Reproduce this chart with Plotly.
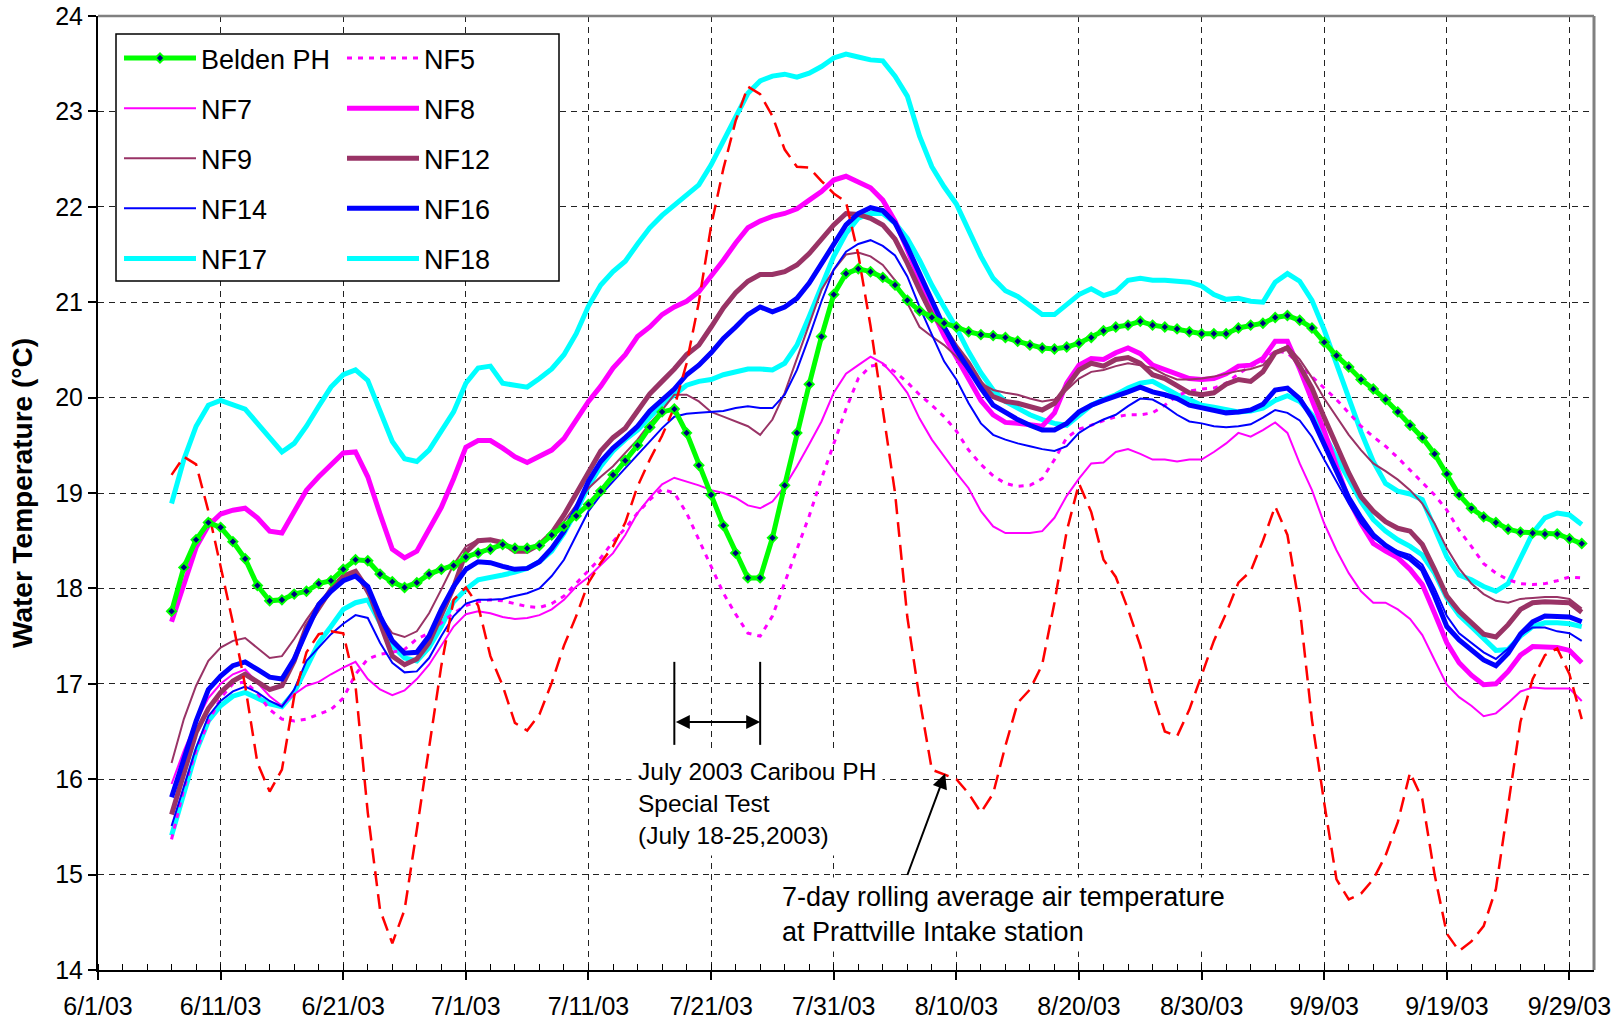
import pandas as pd
import plotly.graph_objects as go

# ---------------- data (daily, 6/7/03 .. 9/30/03) ----------------
dates = pd.date_range("2003-06-07", "2003-09-30", freq="D")

belden_ph = [17.76, 18.22, 18.51, 18.69, 18.64, 18.49, 18.31, 18.03, 17.87, 17.88,
             17.94, 17.97, 18.05, 18.08, 18.20, 18.30, 18.29, 18.15, 18.07, 18.01,
             18.06, 18.15, 18.20, 18.24, 18.33, 18.37, 18.41, 18.46, 18.42, 18.42,
             18.45, 18.56, 18.65, 18.76, 18.88, 19.02, 19.19, 19.34, 19.50, 19.69,
             19.85, 19.88, 19.63, 19.29, 18.98, 18.66, 18.37, 18.11, 18.11, 18.53,
             19.08, 19.63, 20.14, 20.64, 21.08, 21.30, 21.35, 21.32, 21.26, 21.18,
             21.02, 20.91, 20.84, 20.78, 20.74, 20.69, 20.66, 20.65, 20.63, 20.59,
             20.55, 20.52, 20.51, 20.53, 20.57, 20.63, 20.70, 20.74, 20.76, 20.80,
             20.76, 20.74, 20.72, 20.69, 20.67, 20.67, 20.67, 20.73, 20.76, 20.78,
             20.84, 20.86, 20.81, 20.73, 20.58, 20.44, 20.32, 20.19, 20.09, 19.98,
             19.85, 19.71, 19.58, 19.41, 19.20, 18.98, 18.84, 18.75, 18.69, 18.62,
             18.59, 18.58, 18.57, 18.57, 18.52, 18.47]

nf5 = [15.37, 15.90, 16.30, 16.60, 16.85, 17.00, 17.02, 16.90, 16.73, 16.63,
       16.61, 16.63, 16.68, 16.73, 16.85, 17.10, 17.26, 17.31, 17.33, 17.36,
       17.47, 17.53, 17.64, 17.74, 17.82, 17.86, 17.88, 17.87, 17.84, 17.81,
       17.80, 17.84, 17.92, 18.05, 18.19, 18.32, 18.49, 18.63, 18.79, 18.93,
       19.04, 19.00, 18.79, 18.51, 18.22, 17.95, 17.73, 17.53, 17.50, 17.71,
       18.06, 18.41, 18.76, 19.15, 19.52, 19.88, 20.20, 20.33, 20.35, 20.27,
       20.16, 20.03, 19.92, 19.80, 19.65, 19.45, 19.30, 19.18, 19.10, 19.07,
       19.08, 19.15, 19.35, 19.58, 19.67, 19.71, 19.76, 19.80, 19.82, 19.82,
       19.84, 19.92, 20.02, 20.07, 20.09, 20.10, 20.15, 20.25, 20.33, 20.38,
       20.49, 20.47, 20.34, 20.22, 20.10, 19.98, 19.84, 19.70, 19.59, 19.49,
       19.37, 19.24, 19.12, 18.98, 18.82, 18.61, 18.44, 18.26, 18.16, 18.09,
       18.05, 18.04, 18.05, 18.08, 18.12, 18.11]

nf7 = [15.95, 16.30, 16.60, 16.85, 17.00, 17.10, 17.15, 17.01, 16.87, 16.77,
       16.89, 16.98, 17.02, 17.10, 17.17, 17.23, 17.05, 16.94, 16.88, 16.93,
       17.05, 17.20, 17.40, 17.60, 17.73, 17.76, 17.74, 17.70, 17.68, 17.69,
       17.72, 17.78, 17.88, 18.02, 18.12, 18.25, 18.37, 18.56, 18.79, 18.95,
       19.09, 19.16, 19.12, 19.08, 19.03, 19.00, 18.95, 18.87, 18.84, 18.91,
       19.07, 19.28, 19.51, 19.75, 20.05, 20.25, 20.34, 20.43, 20.36, 20.22,
       20.05, 19.78, 19.56, 19.38, 19.21, 19.05, 18.81, 18.65, 18.58, 18.58,
       18.58, 18.60, 18.74, 18.97, 19.15, 19.31, 19.32, 19.43, 19.46, 19.41,
       19.35, 19.35, 19.33, 19.35, 19.35, 19.43, 19.52, 19.63, 19.59, 19.66,
       19.74, 19.63, 19.31, 19.03, 18.68, 18.40, 18.16, 17.97, 17.85, 17.85,
       17.78, 17.68, 17.51, 17.25, 16.99, 16.86, 16.77, 16.66, 16.69, 16.80,
       16.92, 16.96, 16.95, 16.95, 16.95, 16.82]

nf8 = [17.65, 18.06, 18.43, 18.66, 18.78, 18.82, 18.84, 18.74, 18.60, 18.58,
       18.80, 19.03, 19.17, 19.29, 19.42, 19.43, 19.17, 18.78, 18.41, 18.32,
       18.39, 18.62, 18.85, 19.15, 19.48, 19.55, 19.55, 19.47, 19.38, 19.32,
       19.38, 19.45, 19.57, 19.76, 19.96, 20.12, 20.31, 20.45, 20.64, 20.74,
       20.87, 20.95, 21.01, 21.11, 21.27, 21.44, 21.62, 21.78, 21.85, 21.90,
       21.93, 21.98, 22.07, 22.16, 22.28, 22.32, 22.26, 22.20, 22.07, 21.85,
       21.55, 21.22, 20.92, 20.65, 20.42, 20.18, 19.97, 19.82, 19.74, 19.73,
       19.71, 19.70, 19.84, 20.15, 20.34, 20.41, 20.40, 20.47, 20.52, 20.46,
       20.34, 20.29, 20.24, 20.20, 20.19, 20.20, 20.25, 20.33, 20.34, 20.41,
       20.59, 20.59, 20.30, 19.98, 19.65, 19.28, 18.93, 18.68, 18.47, 18.39,
       18.32, 18.20, 18.04, 17.74, 17.43, 17.22, 17.09, 16.99, 17.00, 17.13,
       17.30, 17.39, 17.39, 17.38, 17.35, 17.22]

nf9 = [16.17, 16.63, 16.98, 17.24, 17.38, 17.45, 17.48, 17.38, 17.27, 17.29,
       17.47, 17.67, 17.85, 17.99, 18.08, 18.16, 17.94, 17.71, 17.53, 17.49,
       17.55, 17.74, 17.99, 18.25, 18.44, 18.51, 18.50, 18.47, 18.42, 18.42,
       18.47, 18.56, 18.70, 18.88, 19.05, 19.17, 19.28, 19.42, 19.56, 19.73,
       19.87, 20.03, 20.03, 19.96, 19.85, 19.80, 19.75, 19.70, 19.61, 19.77,
       20.05, 20.41, 20.78, 21.13, 21.34, 21.50, 21.52, 21.48, 21.39, 21.23,
       20.99, 20.74, 20.64, 20.55, 20.43, 20.29, 20.15, 20.08, 20.05, 20.03,
       19.99, 19.96, 19.98, 20.08, 20.20, 20.27, 20.29, 20.33, 20.36, 20.34,
       20.31, 20.24, 20.19, 20.19, 20.20, 20.22, 20.25, 20.28, 20.30, 20.34,
       20.48, 20.54, 20.40, 20.21, 19.99, 19.80, 19.61, 19.45, 19.31, 19.23,
       19.14, 19.03, 18.89, 18.68, 18.42, 18.21, 18.05, 17.94, 17.87, 17.85,
       17.89, 17.90, 17.91, 17.91, 17.89, 17.79]

nf12 = [15.63, 16.07, 16.49, 16.74, 16.91, 17.03, 17.10, 17.02, 16.94, 16.98,
        17.24, 17.60, 17.80, 17.99, 18.13, 18.18, 17.99, 17.64, 17.29, 17.20,
        17.26, 17.43, 17.71, 18.01, 18.38, 18.50, 18.51, 18.48, 18.39, 18.39,
        18.46, 18.58, 18.77, 19.00, 19.23, 19.44, 19.58, 19.68, 19.86, 20.04,
        20.17, 20.30, 20.45, 20.55, 20.74, 20.94, 21.10, 21.22, 21.29, 21.29,
        21.32, 21.39, 21.51, 21.67, 21.81, 21.93, 21.92, 21.88, 21.81, 21.66,
        21.41, 21.13, 20.87, 20.73, 20.53, 20.36, 20.15, 20.01, 19.96, 19.94,
        19.91, 19.87, 19.94, 20.12, 20.29, 20.36, 20.33, 20.40, 20.42, 20.36,
        20.24, 20.20, 20.12, 20.05, 20.03, 20.05, 20.14, 20.19, 20.17, 20.27,
        20.47, 20.52, 20.33, 20.10, 19.79, 19.49, 19.21, 18.96, 18.81, 18.70,
        18.63, 18.60, 18.46, 18.20, 17.92, 17.76, 17.64, 17.52, 17.49, 17.62,
        17.78, 17.85, 17.86, 17.86, 17.85, 17.75]

nf14 = [15.51, 15.91, 16.33, 16.66, 16.82, 16.92, 16.97, 16.91, 16.82, 16.76,
        16.94, 17.24, 17.38, 17.52, 17.63, 17.72, 17.69, 17.43, 17.22, 17.12,
        17.13, 17.27, 17.50, 17.71, 17.84, 17.88, 17.88, 17.89, 17.92, 17.95,
        18.00, 18.13, 18.30, 18.56, 18.81, 18.98, 19.12, 19.26, 19.40, 19.54,
        19.68, 19.80, 19.83, 19.84, 19.85, 19.86, 19.89, 19.91, 19.89, 19.89,
        20.03, 20.29, 20.64, 21.01, 21.34, 21.53, 21.61, 21.65, 21.59, 21.49,
        21.27, 20.95, 20.66, 20.38, 20.19, 19.94, 19.73, 19.61, 19.56, 19.52,
        19.49, 19.46, 19.44, 19.49, 19.63, 19.71, 19.77, 19.82, 19.91, 19.99,
        19.98, 19.91, 19.82, 19.75, 19.73, 19.70, 19.69, 19.70, 19.72, 19.79,
        19.87, 19.84, 19.76, 19.59, 19.35, 19.12, 18.89, 18.68, 18.53, 18.44,
        18.39, 18.35, 18.25, 18.00, 17.71, 17.53, 17.43, 17.33, 17.26, 17.37,
        17.51, 17.59, 17.59, 17.55, 17.53, 17.45]

nf16 = [15.81, 16.21, 16.61, 16.94, 17.08, 17.19, 17.23, 17.15, 17.07, 17.05,
        17.26, 17.55, 17.83, 17.97, 18.08, 18.13, 18.02, 17.71, 17.45, 17.32,
        17.33, 17.50, 17.78, 18.02, 18.20, 18.28, 18.27, 18.23, 18.20, 18.21,
        18.28, 18.42, 18.60, 18.84, 19.12, 19.33, 19.47, 19.58, 19.70, 19.86,
        19.97, 20.09, 20.24, 20.34, 20.47, 20.62, 20.74, 20.87, 20.95, 20.90,
        20.95, 21.04, 21.20, 21.41, 21.62, 21.81, 21.93, 21.99, 21.96, 21.83,
        21.58, 21.30, 20.99, 20.74, 20.50, 20.29, 20.10, 19.92, 19.84, 19.77,
        19.71, 19.66, 19.66, 19.73, 19.85, 19.92, 19.97, 20.01, 20.06, 20.11,
        20.06, 20.03, 19.99, 19.92, 19.89, 19.86, 19.84, 19.85, 19.87, 19.93,
        20.08, 20.10, 19.99, 19.79, 19.51, 19.21, 18.95, 18.74, 18.56, 18.45,
        18.37, 18.31, 18.20, 17.92, 17.60, 17.46, 17.36, 17.25, 17.19, 17.32,
        17.52, 17.65, 17.71, 17.71, 17.70, 17.65]

nf17 = [18.89, 19.35, 19.70, 19.92, 19.97, 19.93, 19.88, 19.73, 19.58, 19.43,
        19.52, 19.70, 19.91, 20.11, 20.24, 20.29, 20.18, 19.87, 19.54, 19.36,
        19.33, 19.45, 19.64, 19.85, 20.15, 20.31, 20.33, 20.15, 20.13, 20.11,
        20.20, 20.30, 20.45, 20.67, 20.96, 21.18, 21.32, 21.43, 21.61, 21.78,
        21.91, 22.02, 22.13, 22.23, 22.44, 22.69, 22.95, 23.19, 23.32, 23.37,
        23.39, 23.36, 23.40, 23.47, 23.56, 23.60, 23.57, 23.54, 23.53, 23.37,
        23.16, 22.74, 22.42, 22.21, 22.03, 21.76, 21.48, 21.25, 21.12, 21.06,
        20.97, 20.87, 20.87, 20.97, 21.08, 21.14, 21.07, 21.11, 21.23, 21.25,
        21.23, 21.23, 21.22, 21.21, 21.17, 21.08, 21.03, 21.04, 21.01, 21.00,
        21.21, 21.30, 21.22, 21.02, 20.71, 20.36, 19.99, 19.64, 19.33, 19.10,
        19.02, 18.99, 18.93, 18.63, 18.33, 18.14, 18.09, 18.02, 17.97, 18.05,
        18.33, 18.58, 18.74, 18.79, 18.77, 18.67]

nf18 = [15.41, 15.87, 16.29, 16.61, 16.77, 16.87, 16.91, 16.85, 16.79, 16.76,
        16.91, 17.17, 17.43, 17.60, 17.78, 17.85, 17.88, 17.64, 17.40, 17.27,
        17.24, 17.38, 17.60, 17.86, 17.99, 18.09, 18.11, 18.14, 18.17, 18.21,
        18.28, 18.39, 18.58, 18.81, 19.07, 19.28, 19.44, 19.56, 19.66, 19.80,
        19.93, 20.03, 20.13, 20.17, 20.19, 20.24, 20.27, 20.30, 20.30, 20.29,
        20.36, 20.55, 20.85, 21.16, 21.48, 21.72, 21.88, 21.93, 21.93, 21.83,
        21.67, 21.44, 21.18, 20.95, 20.73, 20.48, 20.26, 20.08, 19.96, 19.89,
        19.82, 19.77, 19.73, 19.71, 19.82, 19.92, 19.98, 20.03, 20.10, 20.15,
        20.17, 20.10, 20.03, 19.98, 19.92, 19.90, 19.87, 19.85, 19.86, 19.89,
        19.97, 20.02, 19.96, 19.82, 19.61, 19.38, 19.14, 18.91, 18.72, 18.60,
        18.51, 18.44, 18.35, 18.16, 17.90, 17.72, 17.60, 17.48, 17.35, 17.36,
        17.50, 17.60, 17.64, 17.64, 17.63, 17.60]

air_temp = [19.19, 19.38, 19.30, 18.81, 18.23, 17.64, 16.98, 16.17, 15.87, 16.10,
            16.87, 17.33, 17.52, 17.55, 17.53, 16.98, 15.65, 14.63, 14.28, 14.63,
            15.47, 16.35, 17.19, 17.88, 18.01, 17.82, 17.29, 16.98, 16.59, 16.51,
            16.68, 17.01, 17.40, 17.71, 18.06, 18.27, 18.44, 18.69, 19.07, 19.35,
            19.60, 19.90, 20.36, 21.00, 21.80, 22.40, 22.90, 23.26, 23.18, 22.95,
            22.60, 22.42, 22.41, 22.27, 22.14, 22.05, 21.50, 20.75, 19.85, 19.00,
            17.70, 16.84, 16.10, 16.05, 16.00, 15.85, 15.65, 15.85, 16.35, 16.80,
            16.94, 17.20, 17.85, 18.60, 19.10, 18.80, 18.30, 18.12, 17.78, 17.40,
            16.90, 16.50, 16.45, 16.73, 17.10, 17.45, 17.74, 18.06, 18.18, 18.50,
            18.86, 18.56, 17.80, 16.62, 15.75, 14.95, 14.74, 14.80, 14.95, 15.20,
            15.55, 16.07, 15.79, 15.00, 14.38, 14.20, 14.30, 14.46, 14.85, 15.70,
            16.60, 17.05, 17.30, 17.37, 17.10, 16.63]

# ---------------- styling ----------------
FONT = "Arial, 'Liberation Sans', sans-serif"
MAGENTA = "#FF00FF"
PURPLE = "#993366"
BLUE = "#0000FF"
CYAN = "#00FFFF"
GREEN = "#00FF00"

series = [
    # name, values, color, width, dash, legend, rank
    ("NF17", nf17, CYAN, 5, "solid", "legend", 5),
    ("NF18", nf18, CYAN, 5, "solid", "legend2", 5),
    ("NF5", nf5, MAGENTA, 3, "5px,6px", "legend2", 1),
    ("NF7", nf7, MAGENTA, 2, "solid", "legend", 2),
    ("NF8", nf8, MAGENTA, 5, "solid", "legend2", 2),
    ("NF9", nf9, PURPLE, 2, "solid", "legend", 3),
    ("NF12", nf12, PURPLE, 5, "solid", "legend2", 3),
    ("NF14", nf14, BLUE, 2, "solid", "legend", 4),
    ("NF16", nf16, BLUE, 5, "solid", "legend2", 4),
]

fig = go.Figure()
for name, vals, color, width, dash, leg, rank in series:
    fig.add_trace(go.Scatter(
        x=dates, y=vals, name=name, mode="lines",
        line=dict(color=color, width=width, dash=dash),
        legend=leg, legendgroup=name, legendrank=rank,
    ))

fig.add_trace(go.Scatter(
    x=dates, y=air_temp, name="7-day rolling average air temperature",
    mode="lines", line=dict(color="#FF0000", width=2.5, dash="15px,8px"),
    showlegend=False,
))

fig.add_trace(go.Scatter(
    x=dates, y=belden_ph, name="Belden PH", mode="lines+markers",
    line=dict(color=GREEN, width=5),
    marker=dict(symbol="diamond", size=7, color="#000080",
                line=dict(color=GREEN, width=2)),
    legend="legend", legendgroup="Belden PH", legendrank=1,
))

# ---------------- layout ----------------
L, R, T, B = 98, 26, 16, 51
W, H = 1620, 1021
pw, ph = W - L - R, H - T - B


def px_x(x):
    return (x - L) / pw


def px_y(y):
    return (H - B - y) / ph


legend_common = dict(
    bgcolor="rgba(0,0,0,0)", borderwidth=0,
    font=dict(family=FONT, size=27, color="black"),
    itemwidth=72, tracegroupgap=12, orientation="v",
    xanchor="left", yanchor="top", traceorder="grouped",
)

fig.update_layout(
    width=W, height=H,
    margin=dict(l=L, r=R, t=T, b=B, pad=0, autoexpand=False),
    paper_bgcolor="white", plot_bgcolor="white",
    font=dict(family=FONT, size=25, color="black"),
    legend=dict(x=px_x(119), y=px_y(34), **legend_common),
    legend2=dict(x=px_x(342), y=px_y(34), **legend_common),
    xaxis=dict(
        type="date", range=["2003-06-01", "2003-10-01"], automargin=False,
        tick0="2003-06-01", dtick=10 * 86400000, tickformat="%-m/%-d/%y",
        ticks="outside", ticklen=8, tickwidth=1.5, tickcolor="black",
        showline=True, linecolor="black", linewidth=2,
        showgrid=True, gridcolor="#222222", gridwidth=1, griddash="6px,5px",
        tickfont=dict(family=FONT, size=25), ticklabelstandoff=5,
        minor=dict(dtick=2 * 86400000, tick0="2003-06-01", ticks="inside",
                   ticklen=6, tickcolor="black", tickwidth=1, showgrid=False),
        zeroline=False,
    ),
    yaxis=dict(
        range=[14, 24], dtick=1, tick0=14, automargin=False,
        ticks="outside", ticklen=8, tickwidth=1.5, tickcolor="black",
        showline=True, linecolor="black", linewidth=2,
        showgrid=True, gridcolor="#222222", gridwidth=1, griddash="6px,5px",
        tickfont=dict(family=FONT, size=25),
        title=dict(text="Water Temperature (°C)",
                   font=dict(family=FONT, size=28, weight=700), standoff=14),
        zeroline=False,
    ),
    showlegend=True,
)

# plot frame (top/right) and legend box
fig.add_shape(type="line", xref="paper", yref="paper", x0=0, x1=1, y0=1, y1=1,
              line=dict(color="#808080", width=2.5), layer="above")
fig.add_shape(type="line", xref="paper", yref="paper", x0=1, x1=1, y0=0, y1=1,
              line=dict(color="#808080", width=3), layer="above")
fig.add_shape(type="rect", xref="paper", yref="paper",
              x0=px_x(116), x1=px_x(559), y0=px_y(281), y1=px_y(34),
              line=dict(color="black", width=1.5), fillcolor="white", layer="above")

# Special test marker
test_start, test_end = "2003-07-18", "2003-07-25"
for xd in (test_start, test_end):
    fig.add_shape(type="line", xref="x", yref="y", x0=xd, x1=xd, y0=16.36, y1=17.23,
                  line=dict(color="black", width=2))
fig.add_annotation(x=test_end, y=16.6, ax=test_start, ay=16.6, axref="x", ayref="y",
                   xref="x", yref="y", text="", showarrow=True,
                   arrowside="end+start", arrowhead=2, startarrowhead=2,
                   arrowsize=1.4, startarrowsize=1.4, arrowwidth=2, arrowcolor="black",
                   standoff=0, startstandoff=0)
fig.add_annotation(x="2003-07-14 12:00", y=15.75, xref="x", yref="y",
                   text="July 2003 Caribou PH<br>Special Test<br>(July 18-25,2003)",
                   showarrow=False, xanchor="left", yanchor="middle", align="left",
                   bgcolor="white", borderpad=6,
                   font=dict(family=FONT, size=24.5, color="black"))

# air temperature label + arrow
fig.add_annotation(x="2003-07-26 09:00", y=14.58, xref="x", yref="y",
                   text="7-day rolling average air temperature<br>at Prattville Intake station",
                   showarrow=False, xanchor="left", yanchor="middle", align="left",
                   bgcolor="white", borderpad=4,
                   font=dict(family=FONT, size=27, color="black"))
fig.add_annotation(x="2003-08-09 02:00", y=16.06, ax="2003-08-05 23:00", ay=14.98,
                   axref="x", ayref="y", xref="x", yref="y", text="", showarrow=True,
                   arrowhead=2, arrowsize=1.5, arrowwidth=2, arrowcolor="black",
                   standoff=0)

# remove the page's default body margin so the figure sits at the window's origin
fig.write_html(
    "out.html",
    config={"displayModeBar": False},
    post_script="document.body.style.margin='0px';document.body.style.padding='0px';",
)
